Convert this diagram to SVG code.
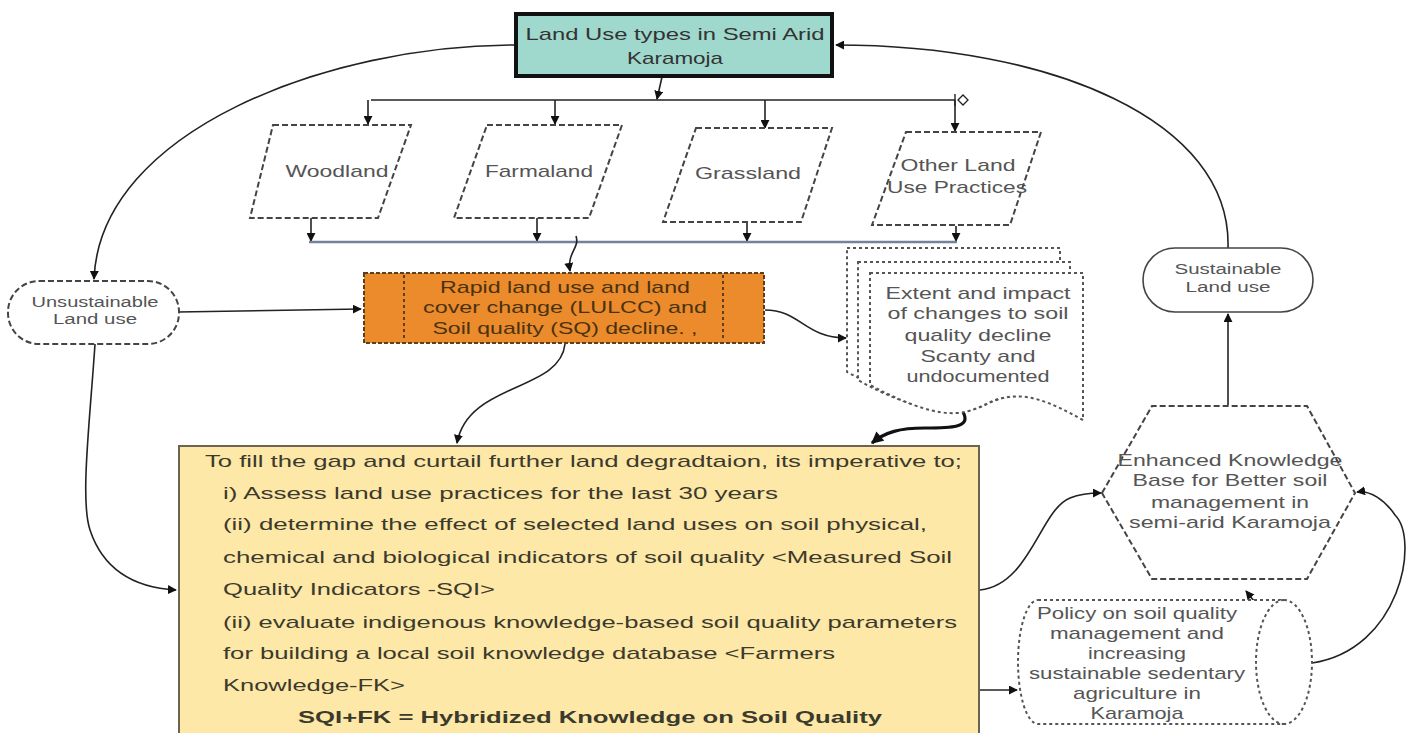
<svg xmlns="http://www.w3.org/2000/svg" width="1411" height="733" viewBox="0 0 1411 733">
<defs>
<style>
text{font-family:"Liberation Sans",Arial,sans-serif;text-anchor:middle}
.g{fill:#555}
.lbl{font-size:17px}
.sm{font-size:14px}
.body{font-size:17px;fill:#3b3a2c;text-anchor:start}
.dash{fill:#fff;stroke:#444;stroke-width:2;stroke-dasharray:6,3}
.dot{fill:#fff;stroke:#555;stroke-width:2;stroke-dasharray:3,3}
.con{fill:none;stroke:#222;stroke-width:1.6}
</style>
<marker id="ah" viewBox="0 0 10 10" refX="9" refY="5" markerWidth="9" markerHeight="9" markerUnits="userSpaceOnUse" orient="auto"><path d="M0,0 L10,5 L0,10 Z" fill="#111"/></marker>
<marker id="ahb" viewBox="0 0 10 10" refX="9" refY="5" markerWidth="14" markerHeight="12" markerUnits="userSpaceOnUse" orient="auto"><path d="M0,0 L10,5 L0,10 Z" fill="#111"/></marker>
</defs>
<rect width="1411" height="733" fill="#fff"/>

<g id="connectors">
<path class="con" d="M662,77 L657,99" marker-end="url(#ah)"/>
<path d="M371,100 H955" stroke="#222" stroke-width="1.6" fill="none"/>
<path d="M955,94 V106" stroke="#222" stroke-width="1.4"/>
<path d="M958,100 L963,95 L968,100 L963,105 Z" fill="#fff" stroke="#222" stroke-width="1.3"/>
<path class="con" d="M368,100 V124" marker-end="url(#ah)"/>
<path class="con" d="M555,100 V124" marker-end="url(#ah)"/>
<path class="con" d="M765,100 V128" marker-end="url(#ah)"/>
<path class="con" d="M955,100 V131" marker-end="url(#ah)"/>
<path class="con" d="M311,218 V241" marker-end="url(#ah)"/>
<path class="con" d="M537,218 V241" marker-end="url(#ah)"/>
<path class="con" d="M747,222 V241" marker-end="url(#ah)"/>
<path class="con" d="M956,226 V241" marker-end="url(#ah)"/>
<path d="M309,242 H957" stroke="#76819c" stroke-width="2.5" fill="none"/>
<path class="con" d="M576,236 C580,248 567,252 570,271" marker-end="url(#ah)"/>
<path class="con" d="M514,45 C330,45 100,130 94,279" marker-end="url(#ah)"/>
<path class="con" d="M1228,248 C1232,120 1050,45 836,45" marker-end="url(#ah)"/>
<path class="con" d="M178,312 L361,309" marker-end="url(#ah)"/>
<path class="con" d="M765,310 C800,310 805,338 846,338" marker-end="url(#ah)"/>
<path class="con" d="M565,344 C560,392 468,382 457,443" marker-end="url(#ah)"/>
<path d="M963,412 C972,428 950,428 925,428 C900,428 885,432 872,443" fill="none" stroke="#111" stroke-width="3.2" marker-end="url(#ahb)"/>
<path class="con" d="M95,344 C90,420 80,500 90,530 C105,575 140,588 176,590" marker-end="url(#ah)"/>
<path class="con" d="M980,590 C1030,585 1040,510 1070,498 C1080,494 1090,493 1101,493" marker-end="url(#ah)"/>
<path class="con" d="M980,690 L1017,690" marker-end="url(#ah)"/>
<path class="con" d="M1228,405 V314" marker-end="url(#ah)"/>
<path class="con" d="M1312,663 C1400,650 1420,540 1395,515 C1385,500 1370,490 1357,492" marker-end="url(#ah)"/>
<path class="con" d="M1254,601 L1246,591" marker-end="url(#ah)"/>
</g>

<g id="landuse-types">
<rect x="516" y="14" width="316" height="62" fill="#9fd8cc" stroke="#111" stroke-width="4"/>
<text x="675" y="40" class="lbl" fill="#333" textLength="299" lengthAdjust="spacingAndGlyphs">Land Use types  in Semi Arid</text>
<text x="675" y="64" class="lbl" fill="#333" textLength="96" lengthAdjust="spacingAndGlyphs">Karamoja</text>
</g>

<g id="woodland">
<path class="dash" d="M273,125 H411 L378,218 H250 Z"/>
<text x="337" y="177" class="lbl g" textLength="103" lengthAdjust="spacingAndGlyphs">Woodland</text>
</g>
<g id="farmaland">
<path class="dash" d="M487,125 H622 L589,218 H454 Z"/>
<text x="539" y="177" class="lbl g" textLength="108" lengthAdjust="spacingAndGlyphs">Farmaland</text>
</g>
<g id="grassland">
<path class="dash" d="M696,128 H832 L801,222 H663 Z"/>
<text x="748" y="179" class="lbl g" textLength="106" lengthAdjust="spacingAndGlyphs">Grassland</text>
</g>
<g id="other-land">
<path class="dash" d="M906,132 H1041 L1010,225 H872 Z"/>
<text x="958" y="171" class="lbl g" textLength="115" lengthAdjust="spacingAndGlyphs">Other Land</text>
<text x="957" y="193" class="lbl g" textLength="140" lengthAdjust="spacingAndGlyphs">Use Practices</text>
</g>

<g id="unsustainable">
<rect x="8" y="281" width="171" height="63" rx="31" class="dash"/>
<text x="95" y="307" class="sm g" textLength="127" lengthAdjust="spacingAndGlyphs">Unsustainable</text>
<text x="95" y="324" class="sm g" textLength="84" lengthAdjust="spacingAndGlyphs">Land use</text>
</g>

<g id="lulcc">
<rect x="364" y="273" width="400" height="70" fill="#eb8b2c" stroke="#5a4020" stroke-width="2" stroke-dasharray="4,2"/>
<path d="M404,275 V341 M723,275 V341" stroke="#5a4020" stroke-width="2" stroke-dasharray="3,3"/>
<text x="565" y="293" class="lbl" fill="#4a3210" textLength="250" lengthAdjust="spacingAndGlyphs">Rapid land use and land</text>
<text x="565" y="313" class="lbl" fill="#4a3210" textLength="284" lengthAdjust="spacingAndGlyphs">cover change (LULCC) and</text>
<text x="565" y="334" class="lbl" fill="#4a3210" textLength="265" lengthAdjust="spacingAndGlyphs">Soil quality (SQ) decline. ,</text>
</g>

<g id="extent-doc">
<path class="dot" d="M847,248 H1060 V395 C1030,380 1000,380 975,395 C950,410 900,400 847,372 Z"/>
<path class="dot" d="M858,262 H1070 V408 C1040,392 1010,392 985,405 C960,418 910,410 858,380 Z"/>
<path class="dot" d="M870,273 H1083 V420 C1050,402 1025,390 995,400 C970,410 955,430 870,385 Z"/>
<text x="978" y="299" class="lbl g" textLength="185" lengthAdjust="spacingAndGlyphs">Extent and impact</text>
<text x="978" y="319" class="lbl g" textLength="181" lengthAdjust="spacingAndGlyphs">of changes to soil</text>
<text x="978" y="341" class="lbl g" textLength="147" lengthAdjust="spacingAndGlyphs">quality decline</text>
<text x="978" y="362" class="lbl g" textLength="115" lengthAdjust="spacingAndGlyphs">Scanty and</text>
<text x="978" y="382" class="lbl g" textLength="143" lengthAdjust="spacingAndGlyphs">undocumented</text>
</g>

<g id="objectives">
<rect x="179" y="446" width="800" height="300" fill="#fde8a7" stroke="#6b6450" stroke-width="2"/>
<text x="205" y="467" class="body" textLength="757" lengthAdjust="spacingAndGlyphs">To fill the gap and curtail  further land degradtaion, its imperative to;</text>
<text x="223" y="499" class="body" textLength="555" lengthAdjust="spacingAndGlyphs">i) Assess land use practices  for the last 30 years</text>
<text x="223" y="530" class="body" textLength="704" lengthAdjust="spacingAndGlyphs">(ii) determine  the effect of selected land uses on soil physical,</text>
<text x="223" y="563" class="body" textLength="729" lengthAdjust="spacingAndGlyphs">chemical and biological indicators of soil quality  &lt;Measured Soil</text>
<text x="223" y="595" class="body" textLength="272" lengthAdjust="spacingAndGlyphs">Quality Indicators -SQI&gt;</text>
<text x="223" y="628" class="body" textLength="734" lengthAdjust="spacingAndGlyphs">(ii) evaluate indigenous knowledge-based soil quality parameters</text>
<text x="223" y="659" class="body" textLength="612" lengthAdjust="spacingAndGlyphs">for building a local soil knowledge database &lt;Farmers</text>
<text x="223" y="691" class="body" textLength="182" lengthAdjust="spacingAndGlyphs">Knowledge-FK&gt;</text>
<text x="298" y="723" class="body" font-weight="bold" fill="#222" textLength="584" lengthAdjust="spacingAndGlyphs">SQI+FK = Hybridized Knowledge on Soil Quality</text>
</g>

<g id="sustainable">
<rect x="1143" y="248" width="170" height="64" rx="32" fill="#fff" stroke="#444" stroke-width="1.6"/>
<text x="1228" y="274" class="sm g" textLength="107" lengthAdjust="spacingAndGlyphs">Sustainable</text>
<text x="1228" y="292" class="sm g" textLength="85" lengthAdjust="spacingAndGlyphs">Land use</text>
</g>

<g id="knowledge-base">
<path class="dash" d="M1102,493 L1152,406 H1307 L1355,493 L1307,579 H1152 Z"/>
<text x="1230" y="466" class="lbl g" textLength="225" lengthAdjust="spacingAndGlyphs">Enhanced Knowledge</text>
<text x="1230" y="486" class="lbl g" textLength="195" lengthAdjust="spacingAndGlyphs">Base for Better soil</text>
<text x="1230" y="508" class="lbl g" textLength="158" lengthAdjust="spacingAndGlyphs">management in</text>
<text x="1230" y="528" class="lbl g" textLength="202" lengthAdjust="spacingAndGlyphs">semi-arid Karamoja</text>
</g>

<g id="policy">
<path class="dot" d="M1038,600 H1284 A28,62 0 0 1 1284,724 H1038 A20,62 0 0 1 1038,600 Z"/>
<path class="dot" fill="none" d="M1284,600 A28,62 0 0 0 1284,724"/>
<text x="1137" y="619" class="lbl g" font-size="16" textLength="200" lengthAdjust="spacingAndGlyphs">Policy on soil quality</text>
<text x="1137" y="639" class="lbl g" textLength="174" lengthAdjust="spacingAndGlyphs">management and</text>
<text x="1137" y="659" class="lbl g" textLength="98" lengthAdjust="spacingAndGlyphs">increasing</text>
<text x="1137" y="679" class="lbl g" textLength="216" lengthAdjust="spacingAndGlyphs">sustainable sedentary</text>
<text x="1137" y="699" class="lbl g" textLength="128" lengthAdjust="spacingAndGlyphs">agriculture in</text>
<text x="1137" y="719" class="lbl g" textLength="93" lengthAdjust="spacingAndGlyphs">Karamoja</text>
</g>
</svg>
